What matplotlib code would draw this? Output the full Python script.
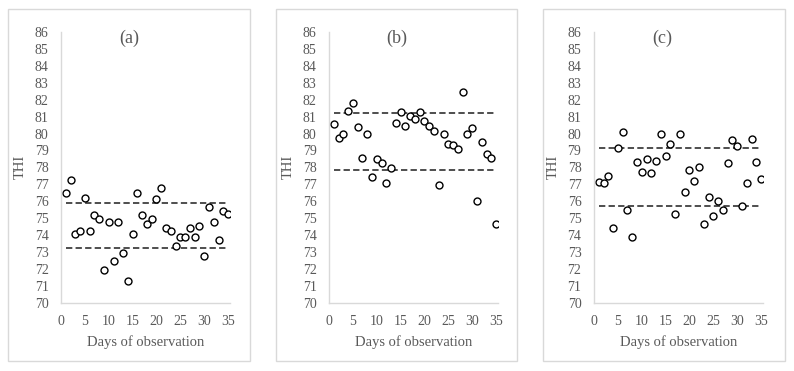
import matplotlib
matplotlib.use('Agg')
import matplotlib.pyplot as plt
from matplotlib.patches import Rectangle
import numpy as np

days = list(range(1, 36))

thi_a = [76.5, 77.25, 74.05, 74.25, 76.2, 74.25, 75.15, 74.95, 71.9, 74.75,
         72.45, 74.75, 72.95, 71.3, 74.05, 76.5, 75.15, 74.65, 74.95, 76.1,
         76.75, 74.4, 74.25, 73.35, 73.85, 73.85, 74.4, 73.85, 74.55, 72.75,
         75.65, 74.75, 73.7, 75.4, 75.25]
thi_b = [80.55, 79.75, 80.0, 81.35, 81.8, 80.4, 78.55, 79.95, 77.4, 78.5,
         78.25, 77.1, 77.95, 80.6, 81.25, 80.45, 81.05, 80.85, 81.25, 80.75,
         80.45, 80.15, 76.95, 80.0, 79.4, 79.3, 79.1, 82.45, 79.95, 80.3,
         76.0, 79.5, 78.8, 78.55, 74.65]
thi_c = [77.15, 77.05, 77.5, 74.4, 79.15, 80.1, 75.45, 73.9, 78.3, 77.7,
         78.5, 77.65, 78.4, 80.0, 78.7, 79.4, 75.25, 80.0, 76.55, 77.85,
         77.2, 78.0, 74.65, 76.25, 75.1, 76.0, 75.5, 78.25, 79.6, 79.25,
         75.7, 77.05, 79.7, 78.3, 77.3]

upper = [75.88, 81.2, 79.15]
lower = [73.2, 77.85, 75.72]
panels = ['(a)', '(b)', '(c)']
yticks = list(range(70, 87))
xticks = list(range(0, 36, 5))

grey = '#595959'
plt.rcParams['font.family'] = ['Liberation Serif', 'DejaVu Serif']

fig = plt.figure(figsize=(7.94, 3.71), dpi=100)

lefts = [61, 329, 594]
frames = [(8, 250), (276, 517), (543, 785)]
W, H = 794.0, 371.0

for i, series in enumerate([thi_a, thi_b, thi_c]):
    fx0, fx1 = frames[i]
    fig.add_artist(Rectangle((fx0 / W, 10 / H), (fx1 - fx0) / W, 352 / H,
                             transform=fig.transFigure, fill=False,
                             edgecolor='#d9d9d9', lw=1))
    ax = fig.add_axes([lefts[i] / W, 68.5 / H, 169 / W, 270.3 / H])
    ax.plot(days, [upper[i]] * len(days), ls=(0, (3.5, 1.8)), color='#404040', lw=1.3)
    ax.plot(days, [lower[i]] * len(days), ls=(0, (3.5, 1.8)), color='#404040', lw=1.3)
    ax.plot(days, series, 'o', ms=5, mfc='white', mec='black', mew=1, ls='none')
    ax.set_xlim(0, 35.4)
    ax.set_ylim(70, 86)
    ax.set_xticks(xticks)
    ax.set_yticks(yticks)
    ax.tick_params(length=0, labelsize=10, colors=grey)
    ax.tick_params(axis='y', pad=9)
    ax.tick_params(axis='x', pad=9)
    for s in ['top', 'right']:
        ax.spines[s].set_visible(False)
    for s in ['left', 'bottom']:
        ax.spines[s].set_color('#d9d9d9')
        ax.spines[s].set_linewidth(1)
    ax.set_xlabel('Days of observation', fontsize=10.5, color=grey, labelpad=5)
    ax.set_ylabel('THI', fontsize=10.5, color=grey, labelpad=6)
    ax.text(14.2, 85.65, panels[i], fontsize=13, color=grey, ha='center', va='center')

fig.savefig('out.png', dpi=100)
